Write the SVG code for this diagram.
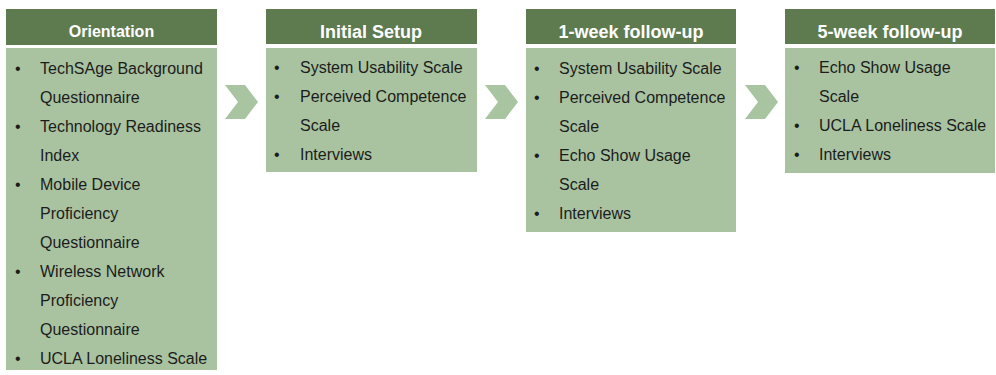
<svg xmlns="http://www.w3.org/2000/svg" width="996" height="375" viewBox="0 0 996 375">
  <defs>
    <style>
      .hdr { fill: #5e7a4f; }
      .body { fill: #a9c3a1; }
      .chev { fill: #a9c4a1; }
      .ht { font-family: "Liberation Sans", Arial, sans-serif; font-weight: bold; fill: #ffffff; text-anchor: middle; }
      .bt { font-family: "Liberation Sans", Arial, sans-serif; font-size: 16px; fill: #1c1c1c; }
    </style>
    <path id="chevron" d="M0,85 L20,85 L33,102 L20,119 L0,119 L13,102 Z"/>
  </defs>
  <rect width="996" height="375" fill="#ffffff"/>

  <g id="orientation">
    <rect class="hdr" x="6" y="9" width="211" height="36"/>
    <rect class="body" x="6" y="48" width="211" height="322"/>
    <text class="ht" x="111.5" y="37" font-size="16">Orientation</text>
    <text class="bt">
      <tspan x="15" y="74">•</tspan><tspan x="40" y="74">TechSAge Background</tspan>
      <tspan x="40" y="103">Questionnaire</tspan>
      <tspan x="15" y="132">•</tspan><tspan x="40" y="132">Technology Readiness</tspan>
      <tspan x="40" y="161">Index</tspan>
      <tspan x="15" y="190">•</tspan><tspan x="40" y="190">Mobile Device</tspan>
      <tspan x="40" y="219">Proficiency</tspan>
      <tspan x="40" y="248">Questionnaire</tspan>
      <tspan x="15" y="277">•</tspan><tspan x="40" y="277">Wireless Network</tspan>
      <tspan x="40" y="306">Proficiency</tspan>
      <tspan x="40" y="335">Questionnaire</tspan>
      <tspan x="15" y="364">•</tspan><tspan x="40" y="364">UCLA Loneliness Scale</tspan>
    </text>
  </g>

  <g id="initial-setup">
    <rect class="hdr" x="266" y="9" width="211" height="35"/>
    <rect class="body" x="266" y="48" width="211" height="124"/>
    <text class="ht" x="371" y="38" font-size="18">Initial Setup</text>
    <text class="bt">
      <tspan x="274" y="73">•</tspan><tspan x="300" y="73">System Usability Scale</tspan>
      <tspan x="274" y="102">•</tspan><tspan x="300" y="102">Perceived Competence</tspan>
      <tspan x="300" y="131">Scale</tspan>
      <tspan x="274" y="160">•</tspan><tspan x="300" y="160">Interviews</tspan>
    </text>
  </g>

  <g id="week1-followup">
    <rect class="hdr" x="526" y="9" width="210" height="35"/>
    <rect class="body" x="526" y="48" width="210" height="184"/>
    <text class="ht" x="631" y="38" font-size="18">1-week follow-up</text>
    <text class="bt">
      <tspan x="534" y="74">•</tspan><tspan x="559" y="74">System Usability Scale</tspan>
      <tspan x="534" y="103">•</tspan><tspan x="559" y="103">Perceived Competence</tspan>
      <tspan x="559" y="132">Scale</tspan>
      <tspan x="534" y="161">•</tspan><tspan x="559" y="161">Echo Show Usage</tspan>
      <tspan x="559" y="190">Scale</tspan>
      <tspan x="534" y="219">•</tspan><tspan x="559" y="219">Interviews</tspan>
    </text>
  </g>

  <g id="week5-followup">
    <rect class="hdr" x="785" y="9" width="210" height="35"/>
    <rect class="body" x="785" y="48" width="210" height="125"/>
    <text class="ht" x="890" y="38" font-size="18">5-week follow-up</text>
    <text class="bt">
      <tspan x="794" y="73">•</tspan><tspan x="819" y="73">Echo Show Usage</tspan>
      <tspan x="819" y="102">Scale</tspan>
      <tspan x="794" y="131">•</tspan><tspan x="819" y="131">UCLA Loneliness Scale</tspan>
      <tspan x="794" y="160">•</tspan><tspan x="819" y="160">Interviews</tspan>
    </text>
  </g>

  <g id="connectors">
    <use href="#chevron" class="chev" x="225"/>
    <use href="#chevron" class="chev" x="485"/>
    <use href="#chevron" class="chev" x="745"/>
  </g>
</svg>
